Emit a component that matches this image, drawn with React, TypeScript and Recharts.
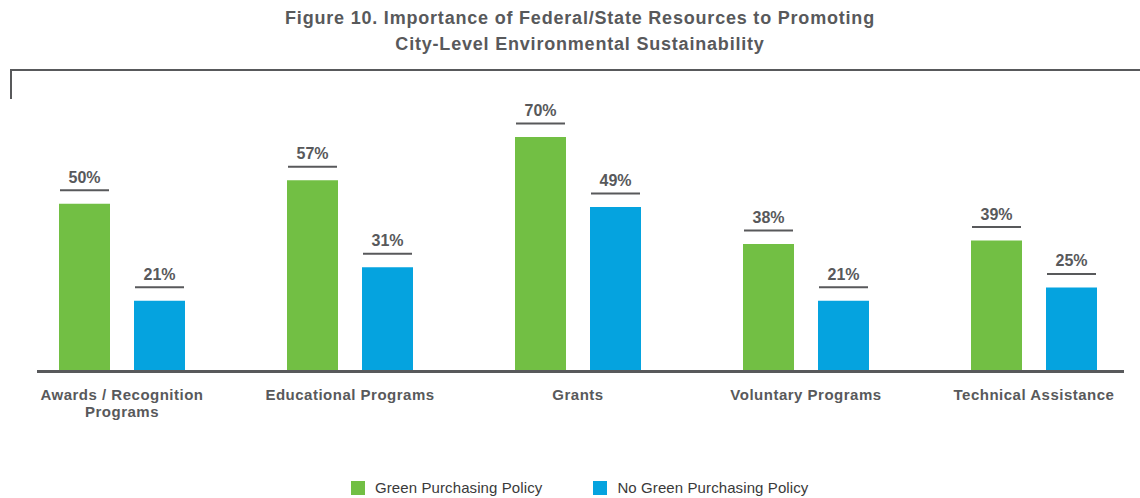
import React from "react";
import { BarChart, Bar, XAxis, YAxis, LabelList } from "recharts";

const categories = [
  "Awards / Recognition Programs",
  "Educational Programs",
  "Grants",
  "Voluntary Programs",
  "Technical Assistance",
];
const greenPolicy = [50, 57, 70, 38, 39];
const noGreenPolicy = [21, 31, 49, 21, 25];
const seriesNames = ["Green Purchasing Policy", "No Green Purchasing Policy"];
const seriesColors = ["#72BF44", "#05A3DF"];

const FONT = '"Liberation Sans", Arial, Helvetica, sans-serif';
const INK = "#58595b";

const data = categories.map((name, i) => ({
  name,
  green: greenPolicy[i],
  noGreen: noGreenPolicy[i],
}));

function splitLabel(text: string): string[] {
  if (text.length <= 22) return [text];
  const cut = text.lastIndexOf(" ", 21);
  return [text.slice(0, cut), text.slice(cut + 1)];
}

function CategoryTick(props: any) {
  const { x, y, payload } = props;
  const lines = splitLabel(String(payload.value));
  return (
    <text
      x={x}
      y={y + 29}
      textAnchor="middle"
      fill={INK}
      fontFamily={FONT}
      fontSize={15}
      fontWeight="bold"
      letterSpacing={0.5}
    >
      {lines.map((l, i) => (
        <tspan key={i} x={x} dy={i === 0 ? 0 : 17}>
          {l}
        </tspan>
      ))}
    </text>
  );
}

// value label: percent with a short rule between it and the bar
function ValueLabel(props: any) {
  const { x, y, width, value } = props;
  const cx = x + width / 2;
  return (
    <g>
      <line
        x1={x + 1}
        x2={x + width - 1}
        y1={y - 13.5}
        y2={y - 13.5}
        stroke={INK}
        strokeWidth={2}
      />
      <text
        x={cx}
        y={y - 21}
        textAnchor="middle"
        fill={INK}
        fontFamily={FONT}
        fontSize={16}
        fontWeight="bold"
      >
        {value}%
      </text>
    </g>
  );
}

export default function App() {
  return (
    <div
      style={{
        position: "absolute",
        left: 0,
        top: 0,
        width: 1140,
        height: 498,
        background: "#fff",
        fontFamily: FONT,
        overflow: "hidden",
      }}
    >
      <div
        style={{
          position: "absolute",
          left: 10,
          top: 6,
          width: 1140,
          textAlign: "center",
          fontSize: 18,
          lineHeight: "25.5px",
          letterSpacing: 0.8,
          fontWeight: "bold",
          color: INK,
        }}
      >
        Figure 10. Importance of Federal/State Resources to Promoting
        <br />
        City-Level Environmental Sustainability
      </div>

      {/* frame corner */}
      <div style={{ position: "absolute", left: 10, top: 69, width: 1130, height: 2, background: INK }} />
      <div style={{ position: "absolute", left: 10, top: 69, width: 2, height: 30, background: INK }} />

      <div style={{ position: "absolute", left: 0, top: 0 }}>
        <BarChart
          width={1140}
          height={498}
          data={data}
          margin={{ top: 70, right: -8, left: 8, bottom: 97 }}
          barGap={24}
        >
          <XAxis
            dataKey="name"
            axisLine={false}
            tickLine={false}
            tickSize={0}
            tickMargin={0}
            interval={0}
            height={30}
            tick={<CategoryTick />}
          />
          <YAxis hide domain={[0, 90]} />
          <Bar dataKey="green" name={seriesNames[0]} fill={seriesColors[0]} barSize={51} isAnimationActive={false}>
            <LabelList dataKey="green" content={<ValueLabel />} />
          </Bar>
          <Bar dataKey="noGreen" name={seriesNames[1]} fill={seriesColors[1]} barSize={51} isAnimationActive={false}>
            <LabelList dataKey="noGreen" content={<ValueLabel />} />
          </Bar>
        </BarChart>
      </div>

      {/* baseline */}
      <div style={{ position: "absolute", left: 37, top: 370, width: 1087, height: 2.5, background: INK }} />

      {/* legend */}
      <div
        style={{
          position: "absolute",
          left: 351,
          top: 481,
          display: "flex",
          alignItems: "center",
          fontSize: 15,
          lineHeight: "14px",
          color: "#3a3a3a",
          letterSpacing: 0.1,
        }}
      >
        {seriesNames.map((n, i) => (
          <div key={n} style={{ display: "flex", alignItems: "center", marginRight: i === 0 ? 51 : 0 }}>
            <div style={{ width: 14, height: 14, background: seriesColors[i], marginRight: 10 }} />
            <span>{n}</span>
          </div>
        ))}
      </div>
    </div>
  );
}
